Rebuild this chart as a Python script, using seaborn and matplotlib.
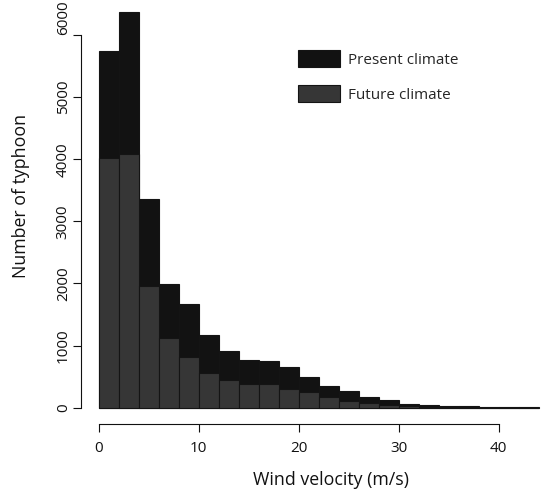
import matplotlib
matplotlib.use("Agg")
import matplotlib.pyplot as plt
from matplotlib.patches import Patch
import numpy as np
import pandas as pd
import seaborn as sns

# 2 m/s bins, 0-44 m/s
bin_edges = list(range(0, 46, 2))
bin_centers = [e + 1 for e in bin_edges[:-1]]

present_climate = [5745, 6370, 3365, 1995, 1665, 1175, 913, 773, 752, 660, 489,
                   349, 269, 177, 119, 60, 45, 28, 20, 12, 8, 5]
future_climate = [4025, 4090, 1965, 1120, 812, 554, 441, 377, 382, 306, 253,
                  177, 113, 81, 48, 22, 15, 9, 6, 3, 2, 1]

x_ticks = [0, 10, 20, 30, 40]
y_ticks = [0, 1000, 2000, 3000, 4000, 5000, 6000]

present_color = "#121212"
future_color = "#363636"
edge_color = "#141414"

df = pd.DataFrame({"wind": bin_centers, "present": present_climate,
                   "future": future_climate})

sns.set_style("ticks")
plt.rcParams["font.family"] = ["Open Sans", "DejaVu Sans"]

fig = plt.figure(figsize=(5.46, 4.91), dpi=100)
# axes laid out in pixels like the R plot region (cropped on the right/top)
ax = fig.add_axes([80.7 / 546, (491 - 423.7) / 491, 1 - 80.7 / 546, 423.7 / 491])

sns.histplot(data=df, x="wind", weights="present", bins=bin_edges, ax=ax,
             color=present_color, edgecolor=edge_color, linewidth=0.8, alpha=1)
sns.histplot(data=df, x="wind", weights="future", bins=bin_edges, ax=ax,
             color=future_color, edgecolor=edge_color, linewidth=0.8, alpha=1)

ax.set_xlim(-1.8, 44.73)
ax.set_ylim(-257.6, 6563)

# R style detached axes
for s in ["top", "right"]:
    ax.spines[s].set_visible(False)
ax.spines["left"].set_bounds(0, 6000)
ax.spines["bottom"].set_bounds(0, 40)
for s in ["left", "bottom"]:
    ax.spines[s].set_linewidth(0.8)
    ax.spines[s].set_color("#111111")

ax.set_xticks(x_ticks)
ax.set_yticks(y_ticks)
ax.tick_params(axis="both", direction="out", length=5.6, width=0.8,
               color="#111111", labelsize=11, labelcolor="#111111")
ax.tick_params(axis="x", pad=7)
ax.tick_params(axis="y", pad=1.5)
for lab in ax.get_yticklabels():
    lab.set_rotation(90)
    lab.set_va("center")
ax.get_yticklabels()[-1].set_va("bottom")

ax.set_xlabel("Wind velocity (m/s)", fontsize=12.8, color="#111111")
ax.set_ylabel("Number of typhoon", fontsize=12.8, color="#111111")
ax.xaxis.label.set_va("baseline")
ax.xaxis.set_label_coords(0.5388, -0.1447)
ax.yaxis.label.set_va("baseline")
ax.yaxis.set_label_coords(-0.1176, 0.5386)

handles = [Patch(facecolor=present_color, edgecolor=edge_color, linewidth=0.8),
           Patch(facecolor=future_color, edgecolor=edge_color, linewidth=0.8)]
fs = 11
fpx = fs * 100 / 72
ax.legend(handles, ["Present climate", "Future climate"], loc="upper left",
          bbox_to_anchor=(298 / 546, 1 - 50.5 / 491), bbox_transform=fig.transFigure,
          frameon=False, fontsize=fs, borderpad=0, borderaxespad=0,
          handlelength=42 / fpx, handleheight=20 / fpx, handletextpad=0.5,
          labelspacing=1.12)

fig.savefig("out.png", dpi=100)
